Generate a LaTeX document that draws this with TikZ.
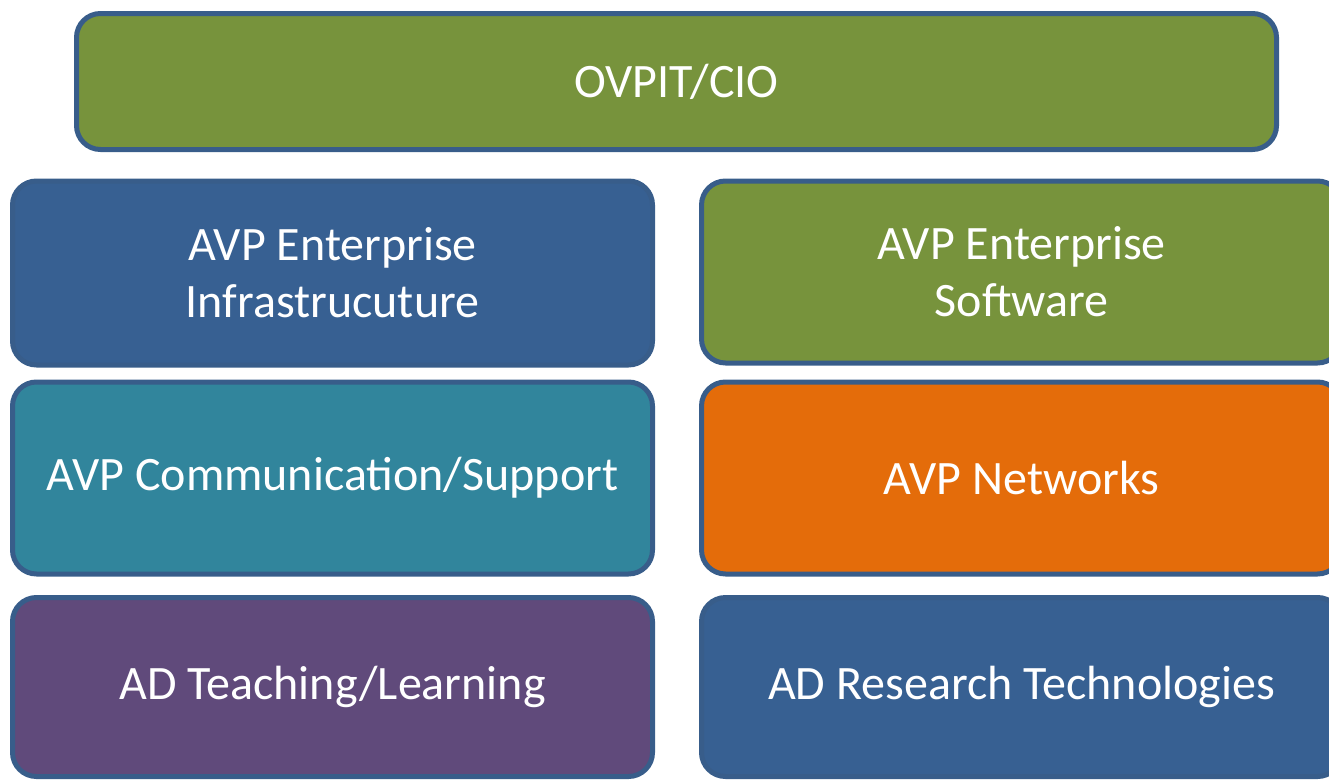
\documentclass[tikz,border=0pt]{standalone}
\usepackage{fontspec}
\setmainfont{Carlito}
\definecolor{ovgreen}{HTML}{77933C}
\definecolor{ovblue}{HTML}{376092}
\definecolor{ovteal}{HTML}{31859C}
\definecolor{ovorange}{HTML}{E46C0A}
\definecolor{ovpurple}{HTML}{604A7B}
\definecolor{ovedge}{HTML}{385D8A}
\tikzset{
  unit/.style={draw=ovedge, line width=5pt, rounded corners=24pt, text=white,
    align=center, minimum width=640pt, inner sep=0pt,
    font=\fontsize{48}{57}\selectfont},
}
\begin{document}
\begin{tikzpicture}[x=1pt,y=-1pt]
\useasboundingbox (0,0) rectangle (1329,779);
% top
\node[unit, fill=ovgreen, minimum width=1200pt, minimum height=136pt] (cio) at (676.5,81.5) {OVPIT/CIO};

% left column
\node[unit, fill=ovblue, minimum height=184pt] (infra) at (332.5,273) {AVP Enterprise\\Infrastrucuture};
\node[unit, fill=ovteal, minimum height=192pt] (comm) at (332.5,478) {AVP Communication/Support};
\node[unit, fill=ovpurple, minimum height=179pt] (teach) at (332.5,687) {AD Teaching/Learning};

% right column
\node[unit, fill=ovgreen, minimum height=182pt] (soft) at (1021.5,272) {AVP Enterprise\\Software};
\node[unit, fill=ovorange, minimum height=192pt] (net) at (1021.5,478) {AVP Networks};
\node[unit, fill=ovblue, minimum height=179pt] (research) at (1021.5,687) {AD Research Technologies};
\end{tikzpicture}
\end{document}
